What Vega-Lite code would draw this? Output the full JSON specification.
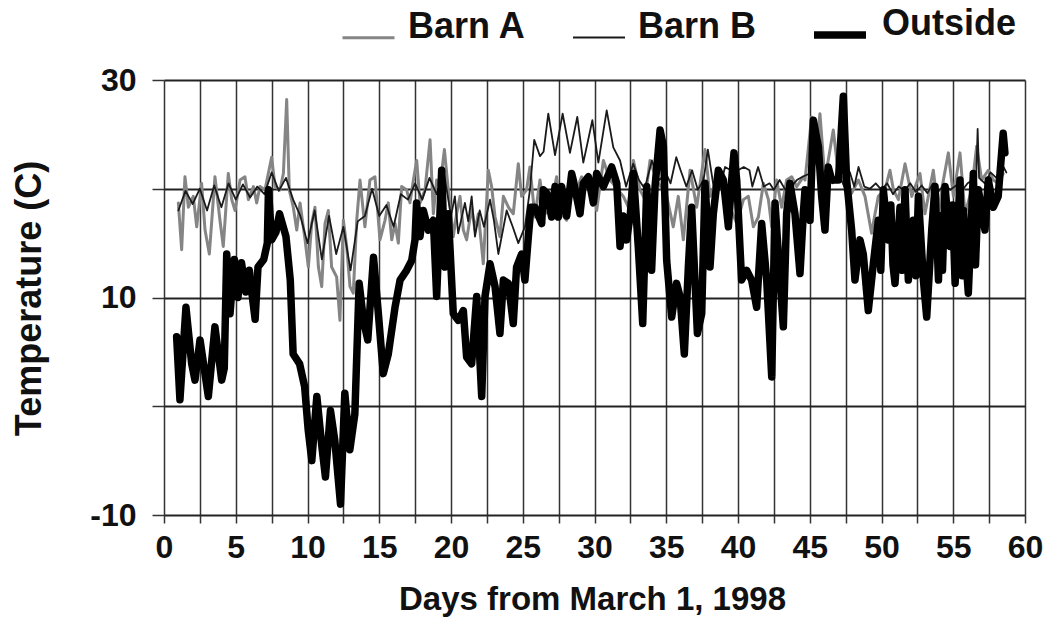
{
  "$schema": "https://vega.github.io/schema/vega-lite/v6.json",
  "width": 861,
  "height": 435,
  "autosize": {"type": "none"},
  "padding": {"left": 164, "top": 80, "right": 23, "bottom": 119},
  "background": "white",
  "config": {"view": {"stroke": null}, "font": "Liberation Sans"},
  "data": {"values": [
    {"s":"Barn A","d":1.0,"t":18.7},{"s":"Barn A","d":1.23,"t":14.4},{"s":"Barn A","d":1.46,"t":21.1},{"s":"Barn A","d":1.7,"t":18.3},{"s":"Barn A","d":2.04,"t":19.3},{"s":"Barn A","d":2.28,"t":16.5},{"s":"Barn A","d":2.62,"t":20.5},{"s":"Barn A","d":2.86,"t":16.2},{"s":"Barn A","d":3.16,"t":14.0},{"s":"Barn A","d":3.55,"t":21.1},{"s":"Barn A","d":3.9,"t":17.1},{"s":"Barn A","d":4.13,"t":14.7},{"s":"Barn A","d":4.48,"t":21.4},{"s":"Barn A","d":4.72,"t":19.0},{"s":"Barn A","d":4.95,"t":18.0},{"s":"Barn A","d":5.3,"t":20.8},{"s":"Barn A","d":5.64,"t":21.1},{"s":"Barn A","d":5.88,"t":19.0},{"s":"Barn A","d":6.23,"t":20.2},{"s":"Barn A","d":6.46,"t":18.7},{"s":"Barn A","d":6.69,"t":20.2},{"s":"Barn A","d":7.04,"t":19.9},{"s":"Barn A","d":7.5,"t":22.9},{"s":"Barn A","d":7.74,"t":20.2},{"s":"Barn A","d":8.08,"t":19.9},{"s":"Barn A","d":8.32,"t":21.4},{"s":"Barn A","d":8.55,"t":28.2},{"s":"Barn A","d":8.73,"t":19.9},{"s":"Barn A","d":9.01,"t":18.3},{"s":"Barn A","d":9.25,"t":16.2},{"s":"Barn A","d":9.48,"t":18.7},{"s":"Barn A","d":9.83,"t":15.3},{"s":"Barn A","d":10.06,"t":12.8},{"s":"Barn A","d":10.29,"t":16.8},{"s":"Barn A","d":10.52,"t":18.3},{"s":"Barn A","d":10.76,"t":12.8},{"s":"Barn A","d":10.99,"t":11.0},{"s":"Barn A","d":11.22,"t":16.8},{"s":"Barn A","d":11.45,"t":18.0},{"s":"Barn A","d":11.68,"t":12.8},{"s":"Barn A","d":12.03,"t":11.9},{"s":"Barn A","d":12.26,"t":7.9},{"s":"Barn A","d":12.5,"t":17.1},{"s":"Barn A","d":12.73,"t":14.7},{"s":"Barn A","d":12.96,"t":11.0},{"s":"Barn A","d":13.19,"t":10.4},{"s":"Barn A","d":13.43,"t":17.1},{"s":"Barn A","d":13.66,"t":20.8},{"s":"Barn A","d":14.0,"t":16.5},{"s":"Barn A","d":14.35,"t":20.8},{"s":"Barn A","d":14.7,"t":21.1},
    {"s":"Barn A","d":15.05,"t":15.3},{"s":"Barn A","d":15.4,"t":17.1},{"s":"Barn A","d":15.63,"t":18.7},{"s":"Barn A","d":15.87,"t":15.3},{"s":"Barn A","d":16.1,"t":16.8},{"s":"Barn A","d":16.33,"t":15.0},{"s":"Barn A","d":16.56,"t":20.2},{"s":"Barn A","d":16.91,"t":19.9},{"s":"Barn A","d":17.14,"t":18.7},{"s":"Barn A","d":17.38,"t":20.8},{"s":"Barn A","d":17.61,"t":22.6},{"s":"Barn A","d":17.84,"t":18.7},{"s":"Barn A","d":18.19,"t":19.9},{"s":"Barn A","d":18.54,"t":24.5},{"s":"Barn A","d":18.77,"t":17.7},{"s":"Barn A","d":19.0,"t":20.8},{"s":"Barn A","d":19.23,"t":20.2},{"s":"Barn A","d":19.54,"t":23.6},{"s":"Barn A","d":19.81,"t":19.9},{"s":"Barn A","d":20.16,"t":15.6},{"s":"Barn A","d":20.39,"t":17.7},{"s":"Barn A","d":20.63,"t":19.3},{"s":"Barn A","d":20.86,"t":16.2},{"s":"Barn A","d":21.09,"t":15.3},{"s":"Barn A","d":21.44,"t":18.3},{"s":"Barn A","d":21.67,"t":16.2},{"s":"Barn A","d":21.91,"t":17.7},{"s":"Barn A","d":22.25,"t":13.1},{"s":"Barn A","d":22.6,"t":21.7},{"s":"Barn A","d":22.83,"t":20.2},{"s":"Barn A","d":23.07,"t":17.4},{"s":"Barn A","d":23.41,"t":15.6},{"s":"Barn A","d":23.65,"t":19.3},{"s":"Barn A","d":24.0,"t":18.3},{"s":"Barn A","d":24.34,"t":17.7},{"s":"Barn A","d":24.69,"t":22.3},{"s":"Barn A","d":24.92,"t":19.3},{"s":"Barn A","d":25.27,"t":19.9},{"s":"Barn A","d":25.5,"t":22.0},{"s":"Barn A","d":25.85,"t":17.4},{"s":"Barn A","d":26.2,"t":20.8},{"s":"Barn A","d":26.55,"t":17.7},{"s":"Barn A","d":26.9,"t":18.0},{"s":"Barn A","d":27.36,"t":21.1},{"s":"Barn A","d":27.71,"t":17.7},{"s":"Barn A","d":28.06,"t":17.1},{"s":"Barn A","d":28.41,"t":19.6},{"s":"Barn A","d":28.75,"t":19.9},{"s":"Barn A","d":29.1,"t":21.1},{"s":"Barn A","d":29.57,"t":19.9},{"s":"Barn A","d":29.92,"t":20.8},
    {"s":"Barn A","d":30.15,"t":18.0},{"s":"Barn A","d":30.62,"t":22.6},{"s":"Barn A","d":31.08,"t":20.8},{"s":"Barn A","d":32.01,"t":19.3},{"s":"Barn A","d":32.36,"t":18.3},{"s":"Barn A","d":32.71,"t":22.6},{"s":"Barn A","d":33.17,"t":19.9},{"s":"Barn A","d":33.52,"t":19.0},{"s":"Barn A","d":33.87,"t":22.6},{"s":"Barn A","d":34.33,"t":20.8},{"s":"Barn A","d":35.03,"t":19.3},{"s":"Barn A","d":35.49,"t":16.5},{"s":"Barn A","d":35.84,"t":19.3},{"s":"Barn A","d":36.19,"t":15.3},{"s":"Barn A","d":36.66,"t":21.7},{"s":"Barn A","d":37.12,"t":18.3},{"s":"Barn A","d":37.7,"t":23.6},{"s":"Barn A","d":38.05,"t":19.3},{"s":"Barn A","d":38.51,"t":20.8},{"s":"Barn A","d":38.98,"t":19.9},{"s":"Barn A","d":39.44,"t":18.3},{"s":"Barn A","d":39.91,"t":16.8},{"s":"Barn A","d":40.38,"t":19.0},{"s":"Barn A","d":40.72,"t":19.3},{"s":"Barn A","d":41.07,"t":16.5},{"s":"Barn A","d":41.42,"t":17.4},{"s":"Barn A","d":41.77,"t":20.5},{"s":"Barn A","d":42.12,"t":19.0},{"s":"Barn A","d":42.35,"t":16.5},{"s":"Barn A","d":42.69,"t":20.8},{"s":"Barn A","d":43.04,"t":18.3},{"s":"Barn A","d":43.39,"t":20.8},{"s":"Barn A","d":43.74,"t":21.1},{"s":"Barn A","d":44.09,"t":20.2},{"s":"Barn A","d":44.55,"t":21.1},
    {"s":"Barn A","d":44.67,"t":20.8},{"s":"Barn A","d":45.13,"t":26.6},{"s":"Barn A","d":45.37,"t":22.3},{"s":"Barn A","d":45.71,"t":26.9},{"s":"Barn A","d":46.06,"t":20.8},{"s":"Barn A","d":46.64,"t":25.4},{"s":"Barn A","d":46.99,"t":21.4},{"s":"Barn A","d":47.46,"t":20.8},{"s":"Barn A","d":47.92,"t":19.6},{"s":"Barn A","d":48.39,"t":20.8},{"s":"Barn A","d":48.85,"t":19.3},{"s":"Barn A","d":49.31,"t":15.9},{"s":"Barn A","d":49.55,"t":17.7},{"s":"Barn A","d":49.78,"t":19.3},{"s":"Barn A","d":50.24,"t":19.9},{"s":"Barn A","d":50.59,"t":21.7},{"s":"Barn A","d":50.83,"t":19.9},{"s":"Barn A","d":51.18,"t":19.0},{"s":"Barn A","d":51.64,"t":22.3},{"s":"Barn A","d":52.11,"t":19.3},{"s":"Barn A","d":52.68,"t":21.4},{"s":"Barn A","d":53.03,"t":17.7},{"s":"Barn A","d":53.61,"t":21.7},{"s":"Barn A","d":53.97,"t":17.7},{"s":"Barn A","d":54.19,"t":19.9},{"s":"Barn A","d":54.66,"t":23.3},{"s":"Barn A","d":55.01,"t":19.3},{"s":"Barn A","d":55.47,"t":23.3},{"s":"Barn A","d":55.82,"t":17.7},{"s":"Barn A","d":56.28,"t":19.9},{"s":"Barn A","d":56.63,"t":23.9},{"s":"Barn A","d":56.98,"t":20.8},{"s":"Barn A","d":57.44,"t":21.7},{"s":"Barn A","d":57.79,"t":20.8},{"s":"Barn A","d":58.13,"t":20.5},{"s":"Barn A","d":58.48,"t":21.4},

    {"s":"Barn B","d":1.0,"t":18.0},{"s":"Barn B","d":1.5,"t":19.8},{"s":"Barn B","d":2.0,"t":18.6},{"s":"Barn B","d":2.5,"t":20.0},{"s":"Barn B","d":3.0,"t":18.0},{"s":"Barn B","d":3.5,"t":20.3},{"s":"Barn B","d":4.0,"t":18.3},{"s":"Barn B","d":4.5,"t":20.5},{"s":"Barn B","d":5.0,"t":19.0},{"s":"Barn B","d":5.5,"t":20.4},{"s":"Barn B","d":6.0,"t":19.2},{"s":"Barn B","d":6.5,"t":20.2},{"s":"Barn B","d":7.0,"t":19.5},{"s":"Barn B","d":7.5,"t":21.5},{"s":"Barn B","d":8.0,"t":19.8},{"s":"Barn B","d":8.5,"t":21.0},{"s":"Barn B","d":9.0,"t":19.0},{"s":"Barn B","d":9.5,"t":17.5},{"s":"Barn B","d":10.0,"t":15.0},{"s":"Barn B","d":10.5,"t":18.0},{"s":"Barn B","d":11.0,"t":13.5},{"s":"Barn B","d":11.5,"t":17.5},{"s":"Barn B","d":12.0,"t":14.0},{"s":"Barn B","d":12.5,"t":16.5},{"s":"Barn B","d":13.0,"t":12.5},{"s":"Barn B","d":13.5,"t":17.0},{"s":"Barn B","d":14.0,"t":17.5},{"s":"Barn B","d":14.5,"t":20.0},{"s":"Barn B","d":15.0,"t":17.5},{"s":"Barn B","d":15.5,"t":18.5},{"s":"Barn B","d":16.0,"t":16.5},{"s":"Barn B","d":16.5,"t":19.5},{"s":"Barn B","d":17.0,"t":19.0},{"s":"Barn B","d":17.5,"t":20.5},{"s":"Barn B","d":18.0,"t":19.0},{"s":"Barn B","d":18.5,"t":21.0},{"s":"Barn B","d":19.0,"t":19.5},{"s":"Barn B","d":19.5,"t":21.5},{"s":"Barn B","d":20.0,"t":17.5},{"s":"Barn B","d":20.27,"t":19.3},{"s":"Barn B","d":20.5,"t":15.9},{"s":"Barn B","d":20.97,"t":18.7},{"s":"Barn B","d":21.2,"t":17.0},{"s":"Barn B","d":21.44,"t":19.3},{"s":"Barn B","d":21.67,"t":15.6},{"s":"Barn B","d":22.0,"t":18.0},{"s":"Barn B","d":22.3,"t":16.5},{"s":"Barn B","d":22.72,"t":19.0},{"s":"Barn B","d":23.0,"t":17.0},{"s":"Barn B","d":23.3,"t":14.0},{"s":"Barn B","d":23.88,"t":18.0},{"s":"Barn B","d":24.3,"t":16.5},{"s":"Barn B","d":24.69,"t":15.0},{"s":"Barn B","d":25.15,"t":16.5},{"s":"Barn B","d":25.5,"t":19.9},{"s":"Barn B","d":25.8,"t":24.5},{"s":"Barn B","d":26.2,"t":23.0},{"s":"Barn B","d":26.45,"t":23.4},{"s":"Barn B","d":26.78,"t":26.9},{"s":"Barn B","d":27.25,"t":23.1},{"s":"Barn B","d":27.78,"t":26.9},{"s":"Barn B","d":28.29,"t":23.3},{"s":"Barn B","d":28.8,"t":26.6},{"s":"Barn B","d":29.22,"t":22.4},{"s":"Barn B","d":29.85,"t":26.3},{"s":"Barn B","d":30.27,"t":22.4},{"s":"Barn B","d":30.85,"t":27.2},{"s":"Barn B","d":31.31,"t":23.8},{"s":"Barn B","d":31.78,"t":22.6},{"s":"Barn B","d":32.2,"t":20.2},{"s":"Barn B","d":32.7,"t":22.3},{"s":"Barn B","d":33.1,"t":20.8},{"s":"Barn B","d":33.5,"t":20.0},{"s":"Barn B","d":34.0,"t":22.6},{"s":"Barn B","d":34.5,"t":20.8},{"s":"Barn B","d":35.0,"t":21.4},{"s":"Barn B","d":35.3,"t":20.5},{"s":"Barn B","d":35.7,"t":22.9},{"s":"Barn B","d":36.0,"t":21.7},{"s":"Barn B","d":36.4,"t":20.2},{"s":"Barn B","d":36.8,"t":21.7},{"s":"Barn B","d":37.2,"t":19.9},{"s":"Barn B","d":37.6,"t":20.8},{"s":"Barn B","d":37.9,"t":23.6},{"s":"Barn B","d":38.3,"t":20.2},{"s":"Barn B","d":38.7,"t":19.9},{"s":"Barn B","d":39.1,"t":22.0},{"s":"Barn B","d":39.5,"t":21.7},{"s":"Barn B","d":39.7,"t":23.3},{"s":"Barn B","d":40.0,"t":21.7},{"s":"Barn B","d":40.4,"t":22.0},{"s":"Barn B","d":40.8,"t":21.7},{"s":"Barn B","d":41.0,"t":20.2},{"s":"Barn B","d":41.4,"t":22.0},{"s":"Barn B","d":41.8,"t":20.2},{"s":"Barn B","d":42.2,"t":20.5},{"s":"Barn B","d":42.5,"t":19.9},{"s":"Barn B","d":42.9,"t":20.8},{"s":"Barn B","d":43.3,"t":19.9},{"s":"Barn B","d":43.7,"t":20.2},{"s":"Barn B","d":44.1,"t":20.8},{"s":"Barn B","d":44.5,"t":21.1},{"s":"Barn B","d":45.0,"t":21.4},{"s":"Barn B","d":45.4,"t":23.0},{"s":"Barn B","d":45.8,"t":21.0},{"s":"Barn B","d":46.2,"t":22.0},{"s":"Barn B","d":46.6,"t":20.5},{"s":"Barn B","d":47.0,"t":21.5},{"s":"Barn B","d":47.4,"t":20.2},{"s":"Barn B","d":47.8,"t":21.5},{"s":"Barn B","d":48.1,"t":20.2},{"s":"Barn B","d":48.4,"t":22.0},{"s":"Barn B","d":48.8,"t":20.2},{"s":"Barn B","d":49.2,"t":20.0},{"s":"Barn B","d":49.6,"t":20.5},{"s":"Barn B","d":50.0,"t":19.9},{"s":"Barn B","d":50.4,"t":20.5},{"s":"Barn B","d":50.8,"t":19.5},{"s":"Barn B","d":51.2,"t":20.2},{"s":"Barn B","d":51.6,"t":19.8},{"s":"Barn B","d":52.0,"t":20.5},{"s":"Barn B","d":52.4,"t":19.7},{"s":"Barn B","d":52.8,"t":20.3},{"s":"Barn B","d":53.2,"t":19.6},{"s":"Barn B","d":53.6,"t":20.5},{"s":"Barn B","d":54.0,"t":19.8},{"s":"Barn B","d":54.4,"t":20.4},{"s":"Barn B","d":54.8,"t":19.9},{"s":"Barn B","d":55.2,"t":20.3},{"s":"Barn B","d":55.6,"t":19.8},{"s":"Barn B","d":56.0,"t":20.5},{"s":"Barn B","d":56.6,"t":21.0},{"s":"Barn B","d":56.7,"t":25.5},{"s":"Barn B","d":56.8,"t":21.0},{"s":"Barn B","d":57.2,"t":20.5},{"s":"Barn B","d":57.6,"t":21.5},{"s":"Barn B","d":58.0,"t":21.0},{"s":"Barn B","d":58.5,"t":22.0},{"s":"Barn B","d":58.7,"t":21.5},

    {"s":"Outside","d":0.88,"t":6.4},{"s":"Outside","d":1.11,"t":0.6},{"s":"Outside","d":1.53,"t":9.1},{"s":"Outside","d":1.93,"t":3.9},{"s":"Outside","d":2.16,"t":2.4},{"s":"Outside","d":2.51,"t":6.1},{"s":"Outside","d":3.09,"t":0.9},{"s":"Outside","d":3.55,"t":7.3},{"s":"Outside","d":4.02,"t":2.4},{"s":"Outside","d":4.2,"t":3.5},{"s":"Outside","d":4.37,"t":14.0},{"s":"Outside","d":4.6,"t":8.5},{"s":"Outside","d":4.9,"t":13.5},{"s":"Outside","d":5.15,"t":10.0},{"s":"Outside","d":5.4,"t":13.2},{"s":"Outside","d":5.7,"t":10.5},{"s":"Outside","d":5.95,"t":12.5},{"s":"Outside","d":6.2,"t":9.6},{"s":"Outside","d":6.35,"t":8.0},{"s":"Outside","d":6.55,"t":12.8},{"s":"Outside","d":6.95,"t":13.5},{"s":"Outside","d":7.2,"t":15.0},{"s":"Outside","d":7.28,"t":19.9},{"s":"Outside","d":7.5,"t":15.3},{"s":"Outside","d":7.8,"t":16.0},{"s":"Outside","d":8.05,"t":17.7},{"s":"Outside","d":8.5,"t":15.6},{"s":"Outside","d":8.8,"t":11.6},{"s":"Outside","d":9.0,"t":4.8},{"s":"Outside","d":9.45,"t":3.9},{"s":"Outside","d":9.8,"t":1.8},{"s":"Outside","d":10.05,"t":-2.2},{"s":"Outside","d":10.3,"t":-5.0},{"s":"Outside","d":10.65,"t":0.9},{"s":"Outside","d":11.0,"t":-3.7},{"s":"Outside","d":11.25,"t":-6.5},{"s":"Outside","d":11.6,"t":-0.4},{"s":"Outside","d":11.9,"t":-3.1},{"s":"Outside","d":12.3,"t":-9.0},{"s":"Outside","d":12.6,"t":1.2},{"s":"Outside","d":12.95,"t":-4.0},{"s":"Outside","d":13.3,"t":-0.7},{"s":"Outside","d":13.6,"t":11.3},{"s":"Outside","d":13.9,"t":7.9},{"s":"Outside","d":14.2,"t":6.1},{"s":"Outside","d":14.6,"t":13.7},
    {"s":"Outside","d":14.94,"t":8.5},{"s":"Outside","d":15.28,"t":3.0},{"s":"Outside","d":15.63,"t":4.8},{"s":"Outside","d":16.1,"t":9.1},{"s":"Outside","d":16.45,"t":11.6},{"s":"Outside","d":16.91,"t":12.5},{"s":"Outside","d":17.26,"t":13.4},{"s":"Outside","d":17.49,"t":15.3},{"s":"Outside","d":17.6,"t":18.7},{"s":"Outside","d":17.84,"t":15.6},{"s":"Outside","d":18.07,"t":18.0},{"s":"Outside","d":18.42,"t":16.2},{"s":"Outside","d":18.77,"t":17.1},{"s":"Outside","d":19.0,"t":10.1},{"s":"Outside","d":19.23,"t":17.7},{"s":"Outside","d":19.35,"t":21.7},{"s":"Outside","d":19.58,"t":12.8},{"s":"Outside","d":19.81,"t":17.7},{"s":"Outside","d":20.16,"t":8.5},{"s":"Outside","d":20.51,"t":7.9},{"s":"Outside","d":20.86,"t":8.8},{"s":"Outside","d":21.09,"t":4.5},{"s":"Outside","d":21.44,"t":3.9},{"s":"Outside","d":21.79,"t":10.1},{"s":"Outside","d":22.14,"t":0.9},{"s":"Outside","d":22.37,"t":10.1},{"s":"Outside","d":22.72,"t":13.1},{"s":"Outside","d":23.07,"t":11.0},{"s":"Outside","d":23.41,"t":6.7},{"s":"Outside","d":23.65,"t":11.6},{"s":"Outside","d":24.0,"t":11.3},{"s":"Outside","d":24.34,"t":7.6},{"s":"Outside","d":24.57,"t":12.8},{"s":"Outside","d":24.92,"t":14.0},{"s":"Outside","d":25.15,"t":11.6},{"s":"Outside","d":25.39,"t":15.6},{"s":"Outside","d":25.57,"t":18.3},{"s":"Outside","d":25.85,"t":18.3},{"s":"Outside","d":26.32,"t":16.8},{"s":"Outside","d":26.43,"t":19.9},{"s":"Outside","d":26.67,"t":19.6},{"s":"Outside","d":27.01,"t":17.4},{"s":"Outside","d":27.25,"t":20.2},{"s":"Outside","d":27.48,"t":17.4},{"s":"Outside","d":27.71,"t":20.2},{"s":"Outside","d":28.06,"t":17.5},{"s":"Outside","d":28.41,"t":21.4},{"s":"Outside","d":28.52,"t":20.8},{"s":"Outside","d":28.99,"t":17.7},{"s":"Outside","d":29.22,"t":20.5},{"s":"Outside","d":29.57,"t":21.1},{"s":"Outside","d":29.92,"t":18.7},
    {"s":"Outside","d":30.15,"t":21.4},{"s":"Outside","d":30.62,"t":20.2},{"s":"Outside","d":31.2,"t":22.0},{"s":"Outside","d":31.55,"t":20.5},{"s":"Outside","d":31.78,"t":14.7},{"s":"Outside","d":32.0,"t":17.5},{"s":"Outside","d":32.24,"t":15.3},{"s":"Outside","d":32.5,"t":17.7},{"s":"Outside","d":32.71,"t":21.4},{"s":"Outside","d":33.05,"t":14.7},{"s":"Outside","d":33.36,"t":7.6},{"s":"Outside","d":33.64,"t":20.2},{"s":"Outside","d":33.98,"t":12.5},{"s":"Outside","d":34.22,"t":20.2},{"s":"Outside","d":34.57,"t":25.4},{"s":"Outside","d":34.8,"t":23.9},{"s":"Outside","d":35.03,"t":13.4},{"s":"Outside","d":35.38,"t":8.2},{"s":"Outside","d":35.72,"t":11.3},{"s":"Outside","d":35.96,"t":10.1},{"s":"Outside","d":36.26,"t":4.8},{"s":"Outside","d":36.54,"t":12.8},{"s":"Outside","d":36.77,"t":18.3},{"s":"Outside","d":37.0,"t":11.6},{"s":"Outside","d":37.17,"t":6.7},{"s":"Outside","d":37.47,"t":8.5},{"s":"Outside","d":37.7,"t":20.5},{"s":"Outside","d":38.05,"t":12.8},{"s":"Outside","d":38.28,"t":17.7},{"s":"Outside","d":38.63,"t":21.7},{"s":"Outside","d":38.98,"t":20.8},{"s":"Outside","d":39.33,"t":16.5},{"s":"Outside","d":39.56,"t":20.8},{"s":"Outside","d":39.72,"t":23.3},{"s":"Outside","d":39.91,"t":20.8},{"s":"Outside","d":40.25,"t":11.6},{"s":"Outside","d":40.6,"t":12.5},{"s":"Outside","d":40.95,"t":11.6},{"s":"Outside","d":41.3,"t":9.1},{"s":"Outside","d":41.65,"t":16.8},{"s":"Outside","d":42.0,"t":11.6},{"s":"Outside","d":42.35,"t":2.7},{"s":"Outside","d":42.58,"t":18.7},{"s":"Outside","d":42.93,"t":11.6},{"s":"Outside","d":43.16,"t":7.3},{"s":"Outside","d":43.39,"t":17.7},{"s":"Outside","d":43.62,"t":20.5},{"s":"Outside","d":43.97,"t":17.7},{"s":"Outside","d":44.32,"t":12.2},{"s":"Outside","d":44.55,"t":17.7},
    {"s":"Outside","d":44.67,"t":19.9},{"s":"Outside","d":45.02,"t":17.1},{"s":"Outside","d":45.25,"t":26.3},{"s":"Outside","d":45.6,"t":23.9},{"s":"Outside","d":45.83,"t":19.3},{"s":"Outside","d":46.06,"t":16.2},{"s":"Outside","d":46.29,"t":22.0},{"s":"Outside","d":46.53,"t":20.8},{"s":"Outside","d":47.0,"t":20.8},{"s":"Outside","d":47.34,"t":28.5},{"s":"Outside","d":47.57,"t":20.8},{"s":"Outside","d":47.92,"t":16.2},{"s":"Outside","d":48.15,"t":11.6},{"s":"Outside","d":48.5,"t":15.3},{"s":"Outside","d":48.73,"t":14.0},{"s":"Outside","d":49.08,"t":8.8},{"s":"Outside","d":49.43,"t":13.1},{"s":"Outside","d":49.78,"t":17.1},{"s":"Outside","d":49.95,"t":12.5},{"s":"Outside","d":50.13,"t":19.9},{"s":"Outside","d":50.47,"t":15.3},{"s":"Outside","d":50.65,"t":18.5},{"s":"Outside","d":50.8,"t":13.0},{"s":"Outside","d":50.94,"t":11.3},{"s":"Outside","d":51.29,"t":18.3},{"s":"Outside","d":51.45,"t":12.5},{"s":"Outside","d":51.64,"t":19.9},{"s":"Outside","d":51.87,"t":11.6},{"s":"Outside","d":52.22,"t":17.1},{"s":"Outside","d":52.4,"t":12.0},{"s":"Outside","d":52.57,"t":19.3},{"s":"Outside","d":52.92,"t":11.6},{"s":"Outside","d":53.15,"t":8.2},{"s":"Outside","d":53.5,"t":16.2},{"s":"Outside","d":53.73,"t":20.2},{"s":"Outside","d":53.97,"t":11.6},{"s":"Outside","d":54.1,"t":17.5},{"s":"Outside","d":54.25,"t":12.5},{"s":"Outside","d":54.43,"t":20.2},{"s":"Outside","d":54.78,"t":14.7},{"s":"Outside","d":54.95,"t":18.5},{"s":"Outside","d":55.13,"t":11.3},{"s":"Outside","d":55.47,"t":20.8},{"s":"Outside","d":55.62,"t":12.0},{"s":"Outside","d":55.72,"t":18.0},{"s":"Outside","d":55.82,"t":14.7},{"s":"Outside","d":56.05,"t":10.4},{"s":"Outside","d":56.4,"t":21.4},{"s":"Outside","d":56.55,"t":13.0},{"s":"Outside","d":56.75,"t":19.9},{"s":"Outside","d":57.21,"t":16.2},{"s":"Outside","d":57.44,"t":20.8},{"s":"Outside","d":57.79,"t":18.3},{"s":"Outside","d":58.13,"t":19.3},{"s":"Outside","d":58.48,"t":25.1},{"s":"Outside","d":58.6,"t":23.3}
  ]},
  "mark": {"type": "line", "strokeJoin": "round", "strokeCap": "round"},
  "encoding": {
    "x": {
      "field": "d", "type": "quantitative",
      "scale": {"domain": [0, 60], "nice": false, "zero": false},
      "axis": {
        "values": [0,2.5,5,7.5,10,12.5,15,17.5,20,22.5,25,27.5,30,32.5,35,37.5,40,42.5,45,47.5,50,52.5,55,57.5,60],
        "labelExpr": "datum.value % 5 === 0 ? datum.label : ''",
        "labelOverlap": false, "labelFlush": false,
        "domain": false,
        "grid": true, "gridColor": "#333333", "gridWidth": 1.5,
        "ticks": true, "tickColor": "#333333", "tickWidth": 1.5, "tickSize": 8,
        "labelFont": "Liberation Sans", "labelFontWeight": "bold", "labelFontSize": 32, "labelColor": "#111111",
        "labelPadding": 9, "labelDx": -7,
        "title": "Days from March 1, 1998",
        "titleFont": "Liberation Sans", "titleFontWeight": "bold", "titleFontSize": 33, "titleColor": "#111111",
        "titleX": 428, "titleY": 94, "titleBaseline": "alphabetic", "titleAlign": "center"
      }
    },
    "y": {
      "field": "t", "type": "quantitative",
      "scale": {"domain": [-10, 30], "nice": false, "zero": false},
      "axis": {
        "values": [-10, 0, 10, 20, 30],
        "labelExpr": "datum.value === 0 || datum.value === 20 ? '' : (datum.value < 0 ? '-10' : datum.label)",
        "domain": false,
        "grid": true, "gridColor": "#222222", "gridWidth": 2,
        "ticks": true, "tickColor": "#333333", "tickWidth": 1.5, "tickSize": 12,
        "labelFont": "Liberation Sans", "labelFontWeight": "bold", "labelFontSize": 32, "labelColor": "#111111",
        "labelPadding": 16, "labelDy": -5,
        "title": "Temperature (C)",
        "titleFont": "Liberation Sans", "titleFontWeight": "bold", "titleFontSize": 36, "titleColor": "#111111",
        "titleX": -124, "titleY": 218, "titleAngle": -90, "titleBaseline": "alphabetic", "titleAlign": "center"
      }
    },
    "color": {
      "field": "s", "type": "ordinal",
      "scale": {"domain": ["Barn A", "Barn B", "Outside"], "range": ["#858585", "#1a1a1a", "#000000"]},
      "legend": {
        "orient": "none", "legendX": 177, "legendY": -75, "direction": "horizontal", "title": null,
        "labelFont": "Liberation Sans", "labelFontWeight": "bold", "labelFontSize": 36, "labelColor": "#111111",
        "labelBaseline": "alphabetic", "labelOffset": 12, "labelLimit": 300,
        "symbolType": "stroke", "symbolSize": 2704, "columnPadding": 42, "padding": 0
      }
    },
    "strokeWidth": {
      "field": "s", "type": "ordinal",
      "scale": {"type": "ordinal", "domain": ["Barn A", "Barn B", "Outside"], "range": [3, 1.8, 7.5]},
      "legend": {
        "orient": "none", "legendX": 177, "legendY": -75, "direction": "horizontal", "title": null,
        "labelFont": "Liberation Sans", "labelFontWeight": "bold", "labelFontSize": 36, "labelColor": "#111111",
        "labelBaseline": "alphabetic", "labelOffset": 12, "labelLimit": 300,
        "symbolType": "stroke", "symbolSize": 2704, "columnPadding": 42, "padding": 0
      }
    }
  }
}
